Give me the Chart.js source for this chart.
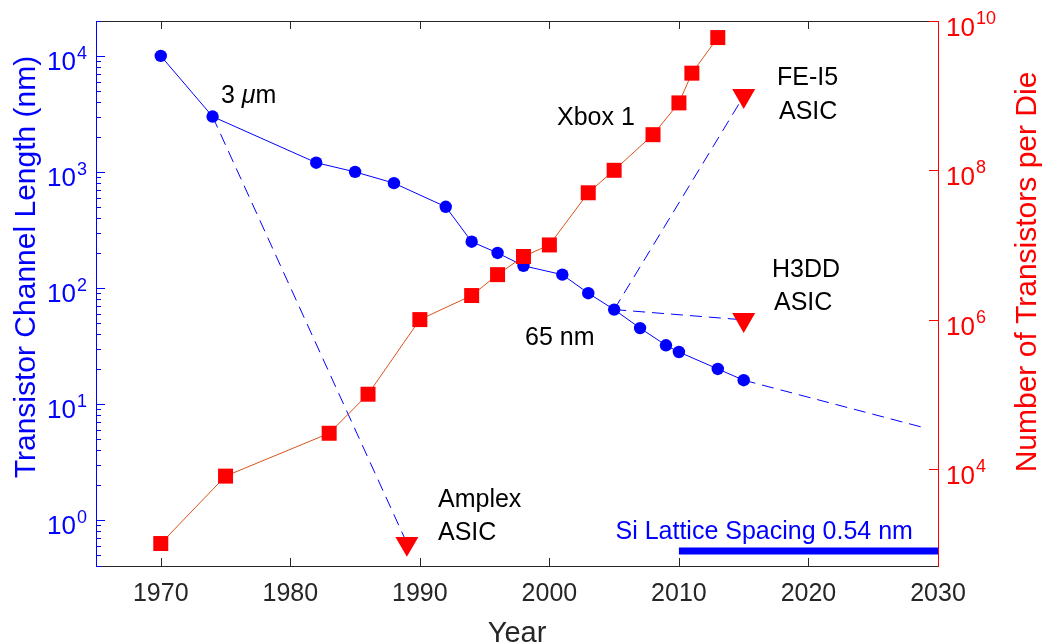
<!DOCTYPE html>
<html>
<head>
<meta charset="utf-8">
<script src="https://cdn.jsdelivr.net/npm/chart.js@4.4.1/dist/chart.umd.min.js"></script>
<style>
html, body { margin: 0; padding: 0; background: #fff; }
#wrap { width: 1043px; height: 643px; position: relative; }
</style>
</head>
<body>
<div id="wrap"><canvas id="chart"></canvas></div>
<script>
// transistor channel length (left axis, nm)
var lenYears = [1970, 1974, 1982, 1985, 1988, 1992, 1994, 1996, 1998, 2001, 2003, 2005, 2007, 2009, 2010, 2013, 2015];
var lenNm = [10000, 3000, 1200, 1000, 800, 500, 250, 200, 155, 130, 90, 65, 45, 32, 28, 20, 16];

// transistors per die (right axis)
var trYears = [1970, 1975, 1983, 1986, 1990, 1994, 1996, 1998, 2000, 2003, 2005, 2008, 2010, 2011, 2013];
var trCount = [1e3, 8e3, 3e4, 1e5, 1e6, 2.1e6, 4e6, 7e6, 1e7, 5e7, 1e8, 3e8, 8e8, 2e9, 6e9];

// ASIC markers (right axis): Amplex, FE-I5, H3DD
var asicYears = [1989, 2015, 2015];
var asicCount = [1e3, 1e9, 1e6];

// dashed guide lines (left axis)
var amplexYears = [1974, 1989], amplexNm = [3000, 0.63];
var fei5Years = [2005, 2015], fei5Nm = [65, 4500];
var h3ddYears = [2005, 2015], h3ddNm = [65, 53];
var trendYears = [2015, 2029], trendNm = [16, 6.2];

// Si lattice spacing
var latticeYears = [2010, 2030], latticeNm = [0.54, 0.54];

// ticks
var xTicks = [1970, 1980, 1990, 2000, 2010, 2020, 2030];
var leftExps = [0, 1, 2, 3, 4];
var rightExps = [4, 6, 8, 10];

var FONT = '"Liberation Sans", Arial, Helvetica, sans-serif';
var BLUE = '#0000FF', RED = '#FF0000', ORANGE = '#D95319', AXIS = '#262626';

function pts(xs, ys) {
    return xs.map(function(v, i){ return {x: v, y: ys[i]}; });
}

function seg(ctx, x1, y1, x2, y2) {
    ctx.beginPath();
    ctx.moveTo(x1, y1);
    ctx.lineTo(x2, y2);
    ctx.stroke();
}

function dashed(xs, ys) {
    return {
        data: pts(xs, ys), yAxisID: 'y', borderColor: BLUE, borderWidth: 1,
        borderDash: [12, 7], pointRadius: 0, fill: false
    };
}

var axesPlugin = {
    id: 'matlabAxes',
    afterDatasetsDraw: function(chart) {
        var ctx = chart.ctx, a = chart.chartArea;
        var sx = chart.scales.x, yl = chart.scales.y, yr = chart.scales.y1;
        ctx.save();
        ctx.lineWidth = 1;

        // box top / bottom with ticks
        ctx.strokeStyle = AXIS;
        seg(ctx, a.left, a.top + 0.5, a.right, a.top + 0.5);
        seg(ctx, a.left, a.bottom + 0.5, a.right, a.bottom + 0.5);
        xTicks.forEach(function(t){
            var px = Math.round(sx.getPixelForValue(t)) + 0.5;
            seg(ctx, px, a.bottom, px, a.bottom - 8);
            seg(ctx, px, a.top, px, a.top + 8);
        });

        // left axis
        ctx.strokeStyle = BLUE;
        seg(ctx, a.left + 0.5, a.top, a.left + 0.5, a.bottom + 1);
        for (var e = -1; e <= 4; e++) {
            for (var m = 1; m <= 9; m++) {
                var v = m * Math.pow(10, e);
                if (v < yl.min || v > yl.max) continue;
                var py = Math.round(yl.getPixelForValue(v)) + 0.5;
                seg(ctx, a.left, py, a.left + (m === 1 ? 9 : 5), py);
            }
        }
        ctx.fillStyle = BLUE;
        ctx.textBaseline = 'alphabetic';
        leftExps.forEach(function(e){
            var py = yl.getPixelForValue(Math.pow(10, e));
            ctx.font = '18px ' + FONT;
            var sw = ctx.measureText(String(e)).width;
            ctx.textAlign = 'right';
            ctx.fillText(String(e), 87, py + 3);
            ctx.font = '26px ' + FONT;
            ctx.fillText('10', 87 - sw - 1, py + 14);
        });

        // right axis
        ctx.strokeStyle = RED;
        seg(ctx, a.right + 0.5, a.top, a.right + 0.5, a.bottom + 1);
        ctx.fillStyle = RED;
        ctx.textAlign = 'left';
        rightExps.forEach(function(e){
            var py = Math.round(yr.getPixelForValue(Math.pow(10, e))) + 0.5;
            seg(ctx, a.right, py, a.right - 9, py);
            ctx.font = '26px ' + FONT;
            var w = ctx.measureText('10').width;
            ctx.fillText('10', 946, py + 14);
            ctx.font = '18px ' + FONT;
            ctx.fillText(String(e), 946 + w + 1, py + 2);
        });

        // axis titles
        ctx.font = '30px ' + FONT;
        ctx.textAlign = 'center';
        ctx.fillStyle = BLUE;
        ctx.save();
        ctx.translate(35, 267);
        ctx.rotate(-Math.PI / 2);
        ctx.fillText('Transistor Channel Length (nm)', 0, 0);
        ctx.restore();
        ctx.fillStyle = RED;
        ctx.save();
        ctx.translate(1036, 272);
        ctx.rotate(-Math.PI / 2);
        ctx.fillText('Number of Transistors per Die', 0, 0);
        ctx.restore();
        ctx.fillStyle = AXIS;
        ctx.font = '29px ' + FONT;
        ctx.fillText('Year', (a.left + a.right) / 2, 642);

        // annotations
        ctx.textAlign = 'left';
        ctx.fillStyle = '#000';
        ctx.font = '25px ' + FONT;
        var notes = [
            ['Xbox 1', 557, 125], ['FE-I5', 777, 85], ['ASIC', 779, 119],
            ['H3DD', 772, 277], ['ASIC', 774, 310], ['65 nm', 525, 345],
            ['Amplex', 438, 507], ['ASIC', 438, 540]
        ];
        notes.forEach(function(n){ ctx.fillText(n[0], n[1], n[2]); });
        var x0 = 221;
        ctx.fillText('3 ', x0, 103);
        x0 += ctx.measureText('3 ').width;
        ctx.font = 'italic 25px ' + FONT;
        ctx.fillText('\u03bc', x0, 103);
        x0 += ctx.measureText('\u03bc').width;
        ctx.font = '25px ' + FONT;
        ctx.fillText('m', x0, 103);
        ctx.fillStyle = BLUE;
        ctx.fillText('Si Lattice Spacing 0.54 nm', 615.5, 538.5);
        ctx.restore();
    }
};

var chart = new Chart(document.getElementById('chart').getContext('2d'), {
    type: 'line',
    data: {
        datasets: [
            {
                data: pts(asicYears, asicCount), yAxisID: 'y1', showLine: false,
                pointStyle: 'triangle', rotation: 180, pointRadius: 13.3,
                pointBackgroundColor: RED, pointBorderColor: RED, pointBorderWidth: 0
            },
            {
                data: pts(trYears, trCount), yAxisID: 'y1', borderColor: ORANGE, borderWidth: 1,
                pointStyle: 'rect', pointRadius: 10.6, pointBackgroundColor: RED,
                pointBorderColor: RED, pointBorderWidth: 0
            },
            {
                data: pts(lenYears, lenNm), yAxisID: 'y', borderColor: BLUE, borderWidth: 1,
                pointStyle: 'circle', pointRadius: 6.2, pointBackgroundColor: BLUE,
                pointBorderColor: BLUE, pointBorderWidth: 0
            },
            dashed(amplexYears, amplexNm),
            dashed(fei5Years, fei5Nm),
            dashed(h3ddYears, h3ddNm),
            dashed(trendYears, trendNm),
            {
                data: pts(latticeYears, latticeNm), yAxisID: 'y', borderColor: BLUE,
                borderWidth: 7, pointRadius: 0, borderCapStyle: 'butt'
            }
        ]
    },
    options: {
        responsive: true,
        maintainAspectRatio: false,
        animation: false,
        layout: {padding: {top: 21, left: 0, right: 0, bottom: 0}},
        plugins: {legend: {display: false}, tooltip: {enabled: false}},
        elements: {line: {tension: 0}},
        scales: {
            x: {
                type: 'linear', min: 1965, max: 2030,
                grid: {display: false, drawTicks: false},
                border: {display: false},
                ticks: {
                    color: AXIS, padding: 13, maxRotation: 0,
                    font: {family: FONT, size: 25},
                    callback: function(v){ return String(v); }
                },
                afterBuildTicks: function(s){ s.ticks = xTicks.map(function(v){ return {value: v}; }); },
                afterFit: function(s){ s.height = 77; }
            },
            y: {
                type: 'logarithmic', position: 'left', min: 0.4, max: 2e4,
                grid: {display: false}, border: {display: false},
                ticks: {display: false},
                afterFit: function(s){ s.width = 96; }
            },
            y1: {
                type: 'logarithmic', position: 'right', min: 500, max: 1e10,
                grid: {display: false}, border: {display: false},
                ticks: {display: false},
                afterFit: function(s){ s.width = 105; }
            }
        }
    },
    plugins: [axesPlugin]
});
</script>
</body>
</html>
